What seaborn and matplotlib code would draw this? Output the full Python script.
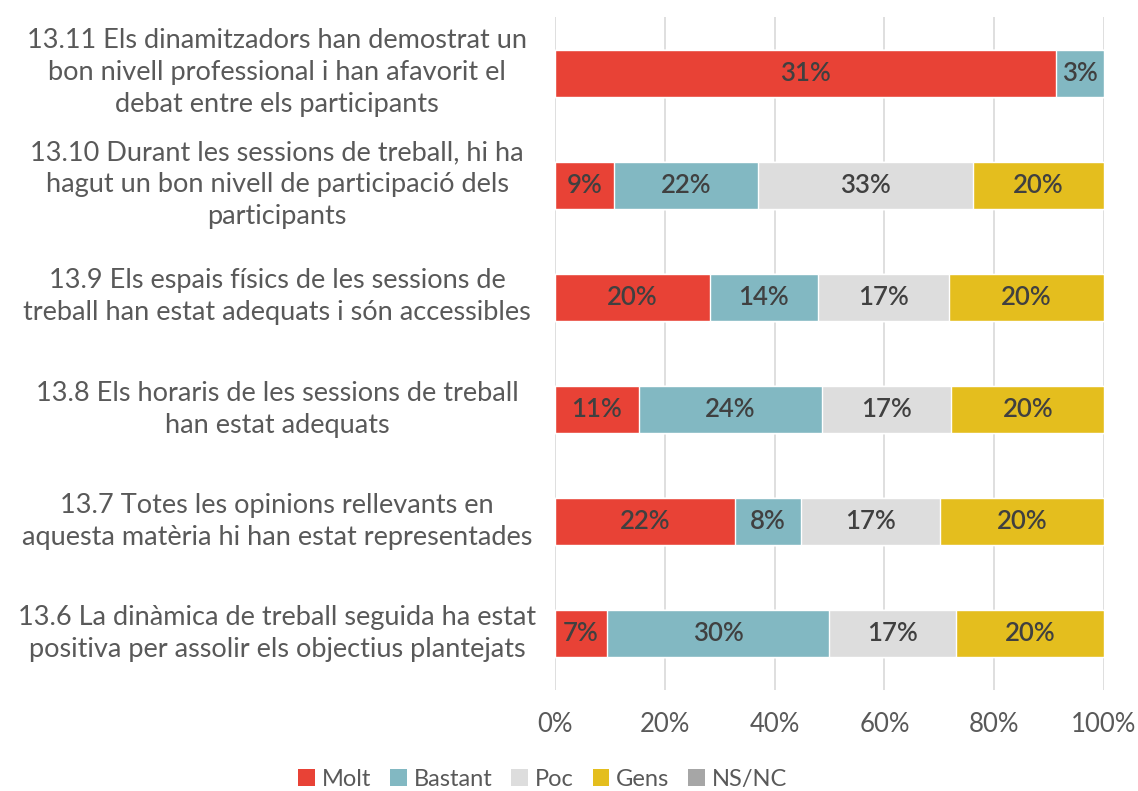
import matplotlib
matplotlib.use("Agg")
import matplotlib.pyplot as plt
import matplotlib.transforms as mtransforms
import seaborn as sns
import pandas as pd
import numpy as np
from matplotlib.patches import Patch
from matplotlib.ticker import PercentFormatter

categories = [
    "13.11 Els dinamitzadors han demostrat un\nbon nivell professional i han afavorit el\ndebat entre els participants",
    "13.10 Durant les sessions de treball, hi ha\nhagut un bon nivell de participació dels\nparticipants",
    "13.9 Els espais físics de les sessions de\ntreball han estat adequats i són accessibles",
    "13.8 Els horaris de les sessions de treball\nhan estat adequats",
    "13.7 Totes les opinions rellevants en\naquesta matèria hi han estat representades",
    "13.6 La dinàmica de treball seguida ha estat\npositiva per assolir els objectius plantejats",
]
series = ["Molt", "Bastant", "Poc", "Gens", "NS/NC"]
molt = [31, 9, 20, 11, 22, 7]
bastant = [3, 22, 14, 24, 8, 30]
poc = [0, 33, 17, 17, 17, 17]
gens = [0, 20, 20, 20, 20, 20]
nsnc = [0, 0, 0, 0, 0, 0]
colors = ["#E84236", "#82B8C2", "#DDDDDD", "#E4BE1E", "#A6A6A6"]

sns.set_theme(style="white")
plt.rcParams["font.family"] = ["Lato", "DejaVu Sans"]

vals = np.array([molt, bastant, poc, gens, nsnc], dtype=float)
totals = vals.sum(axis=0)
shares = vals / totals
cum = np.cumsum(shares, axis=0)

fig = plt.figure(figsize=(11.38, 7.91), dpi=100)
ax = fig.add_axes([0.4877, 0.1277, 0.9701 - 0.4877, 0.9785 - 0.1277])

for i in range(len(series) - 1, -1, -1):
    df = pd.DataFrame({"cat": categories, "v": cum[i]})
    sns.barplot(data=df, x="v", y="cat", color=colors[i], orient="h",
                width=0.42, ax=ax, saturation=1, zorder=2)

for j in range(len(categories)):
    left = 0.0
    for i in range(len(series)):
        w = shares[i, j]
        if vals[i, j] > 0:
            ax.text(left + w / 2, j, f"{int(vals[i, j])}%", ha="center", va="center",
                    fontsize=18.5, fontweight="semibold", color="#404040", zorder=5)
        left += w

ax.set_xlim(0, 1)
ax.set_ylim(len(categories) - 0.5, -0.5)
ax.set_xticks(np.linspace(0, 1, 6))
ax.xaxis.set_major_formatter(PercentFormatter(1.0, decimals=0))
ax.grid(axis="x", color="#D9D9D9", linewidth=1.2, zorder=0)
ax.grid(axis="y", visible=False)
for s in ax.spines.values():
    s.set_visible(False)
ax.set_xlabel("")
ax.set_ylabel("")
ax.tick_params(axis="both", length=0, colors="#595959")
ax.tick_params(axis="x", labelsize=18.5, pad=16)
ax.tick_params(axis="y", labelsize=19.5, pad=0)

shift = mtransforms.ScaledTranslation(-2.78, 0.065, fig.dpi_scale_trans)
for lbl in ax.get_yticklabels():
    lbl.set_ha("center")
    lbl.set_multialignment("center")
    lbl.set_linespacing(1.35)
    lbl.set_transform(lbl.get_transform() + shift)

handles = [Patch(facecolor=c, edgecolor="none") for c in colors]
fig.legend(handles, series, loc="center", bbox_to_anchor=(0.477, 0.015), ncol=5,
           frameon=False, fontsize=17, handlelength=0.7, handleheight=0.7,
           handletextpad=0.3, columnspacing=0.8, labelcolor="#595959")

fig.savefig("out.png", dpi=100)
